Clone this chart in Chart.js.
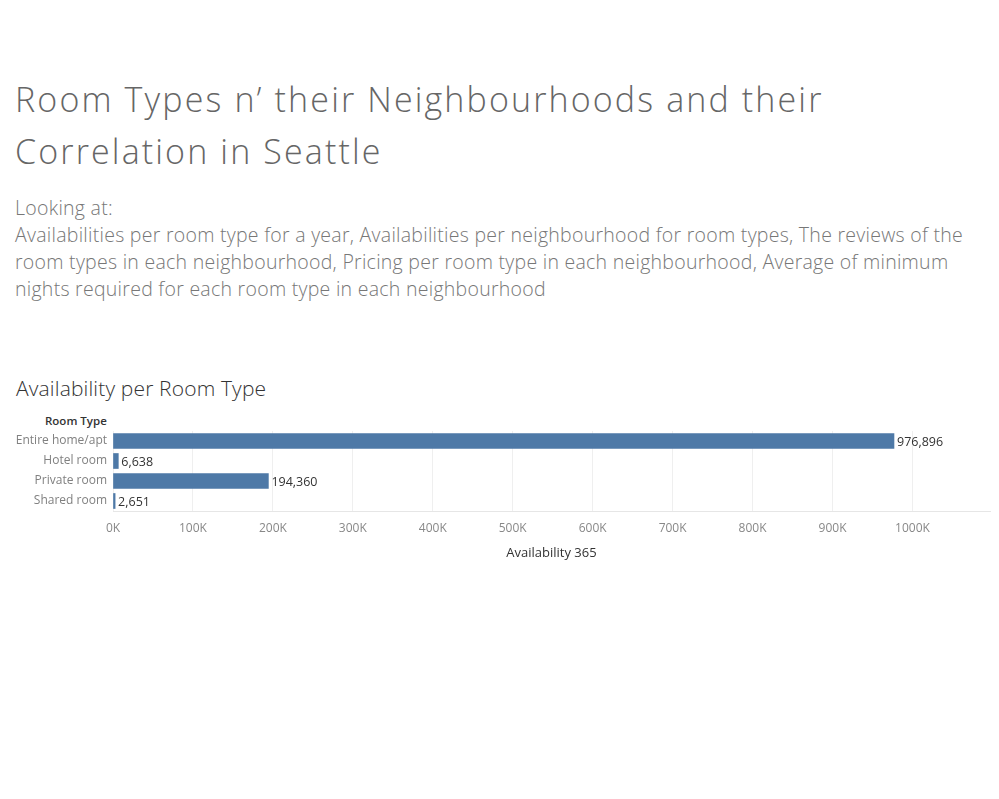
<!DOCTYPE html>
<html>
<head>
<meta charset="utf-8">
<script src="https://cdn.jsdelivr.net/npm/chart.js@4.4.1/dist/chart.umd.min.js"></script>
<style>
  html,body{margin:0;padding:0;background:#fff;}
  body{width:999px;height:799px;position:relative;overflow:hidden;font-family:"Open Sans",sans-serif;}
  .t{position:absolute;white-space:nowrap;}
  #title{left:15px;top:73px;font-size:34px;font-weight:300;color:#666;line-height:52px;letter-spacing:2.13px;}
  #sub{left:15px;top:194px;font-size:19.5px;font-weight:300;color:#777;line-height:27px;letter-spacing:0.27px;}
  #ctitle{left:16px;top:374px;font-size:21px;font-weight:300;color:#333;letter-spacing:0.15px;}
  #rt{left:45px;top:413px;font-size:11.5px;font-weight:600;color:#333;}
  #c{position:absolute;left:0;top:0;}
</style>
</head>
<body>
<div class="t" id="title">Room Types n’ their Neighbourhoods and their<br>Correlation in Seattle</div>
<div class="t" id="sub">Looking at:<br>Availabilities per room type for a year, Availabilities per neighbourhood for room types, The reviews of the<br>room types in each neighbourhood, Pricing per room type in each neighbourhood, Average of minimum<br>nights required for each room type in each neighbourhood</div>
<div class="t" id="ctitle">Availability per Room Type</div>
<div class="t" id="rt">Room Type</div>
<canvas id="c" width="999" height="799"></canvas>
<script>
const categories = ["Entire home/apt", "Hotel room", "Private room", "Shared room"];
const availability = [976896, 6638, 194360, 2651];
const tickValues = [0,100000,200000,300000,400000,500000,600000,700000,800000,900000,1000000];
const tickLabels = ["0K","100K","200K","300K","400K","500K","600K","700K","800K","900K","1000K"];
const xTitle = "Availability 365";

const FONT = '"Open Sans", sans-serif';

const valueLabels = {
  id: 'valueLabels',
  afterDatasetsDraw(chart) {
    const ctx = chart.ctx;
    const meta = chart.getDatasetMeta(0);
    ctx.save();
    ctx.font = '12.5px ' + FONT;
    ctx.fillStyle = '#333';
    ctx.textBaseline = 'middle';
    ctx.textAlign = 'left';
    meta.data.forEach((bar, i) => {
      ctx.fillText(availability[i].toLocaleString('en-US'), bar.x + 3, bar.y + 1);
    });
    ctx.restore();
  }
};

new Chart(document.getElementById('c'), {
  type: 'bar',
  data: {
    labels: categories,
    datasets: [{
      data: availability,
      backgroundColor: '#4e79a7',
      barThickness: 15,
      borderWidth: 0
    }]
  },
  options: {
    indexAxis: 'y',
    responsive: false,
    animation: false,
    layout: { padding: { left: 0, top: 431, right: 9, bottom: 799 - 570 } },
    plugins: { legend: { display: false }, tooltip: { enabled: false } },
    scales: {
      x: {
        min: 0,
        max: 1097000,
        afterBuildTicks(scale) {
          scale.ticks = tickValues.map(v => ({ value: v }));
        },
        afterFit(scale) { scale.height = 59; },
        ticks: {
          callback(v) { const i = tickValues.indexOf(v); return i >= 0 ? tickLabels[i] : ''; },
          color: '#888',
          font: { family: FONT, size: 12 },
          padding: 10,
          maxRotation: 0,
          autoSkip: false
        },
        grid: { color: '#efefef', drawTicks: false, lineWidth: 1 },
        border: { display: true, color: '#e6e6e6' },
        title: { display: true, text: xTitle, color: '#333', font: { family: FONT, size: 13 }, padding: { top: 1, bottom: 9 } }
      },
      y: {
        afterFit(scale) { scale.width = 113; },
        ticks: {
          color: '#808080',
          font: { family: FONT, size: 12 },
          padding: 6
        },
        grid: { display: false, drawTicks: false },
        border: { display: false }
      }
    }
  },
  plugins: [valueLabels]
});
</script>
</body>
</html>
